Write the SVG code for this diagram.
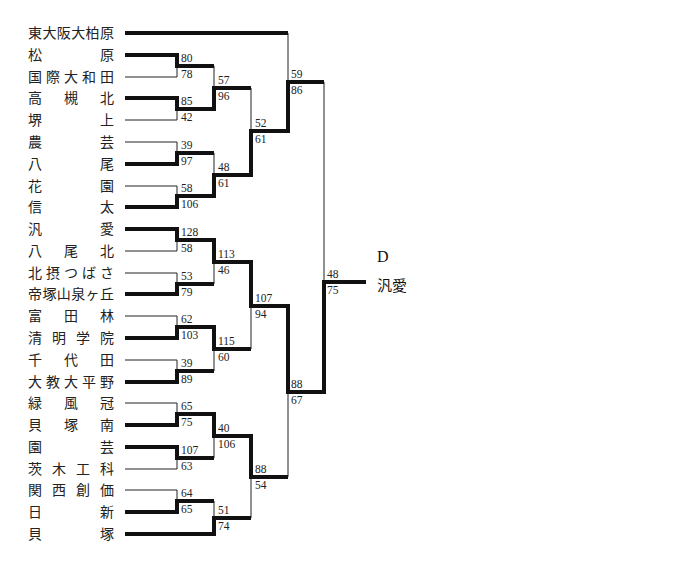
<svg xmlns="http://www.w3.org/2000/svg" width="700" height="565" viewBox="0 0 700 565">
<style>
.n{font-family:"Noto Sans CJK JP",sans-serif;font-size:14px;fill:#222}
.s{font-family:"Liberation Serif",serif;font-size:11.5px;fill:#222}
.thick{fill:none;stroke:#111;stroke-width:4;stroke-linejoin:miter}
.thin{fill:none;stroke:#222;stroke-width:1}
.w{font-family:"Liberation Serif","Noto Sans CJK JP",serif;font-size:16px;fill:#111}
.wj{font-family:"Noto Sans CJK JP",sans-serif;font-size:15px;fill:#111}
</style>
<rect width="700" height="565" fill="#fff"/>
<g id="teams">
<g id="t0"><text class="n" x="28 42.4 56.8 71.2 85.6 100" y="38">東大阪大柏原</text></g>
<g id="t1"><text class="n" x="28 100" y="60">松原</text></g>
<g id="t2"><text class="n" x="28 46 64 82 100" y="82">国際大和田</text></g>
<g id="t3"><text class="n" x="28 64 100" y="103">高槻北</text></g>
<g id="t4"><text class="n" x="28 100" y="125">堺上</text></g>
<g id="t5"><text class="n" x="28 100" y="147">農芸</text></g>
<g id="t6"><text class="n" x="28 100" y="169">八尾</text></g>
<g id="t7"><text class="n" x="28 100" y="191">花園</text></g>
<g id="t8"><text class="n" x="28 100" y="212">信太</text></g>
<g id="t9"><text class="n" x="28 100" y="234">汎愛</text></g>
<g id="t10"><text class="n" x="28 64 100" y="256">八尾北</text></g>
<g id="t11"><text class="n" x="28 46 64 82 100" y="278">北摂つばさ</text></g>
<g id="t12"><text class="n" x="28 42.4 56.8 71.2 85.6 100" y="299">帝塚山泉ヶ丘</text></g>
<g id="t13"><text class="n" x="28 64 100" y="321">富田林</text></g>
<g id="t14"><text class="n" x="28 52 76 100" y="343">清明学院</text></g>
<g id="t15"><text class="n" x="28 64 100" y="365">千代田</text></g>
<g id="t16"><text class="n" x="28 46 64 82 100" y="387">大教大平野</text></g>
<g id="t17"><text class="n" x="28 64 100" y="408">緑風冠</text></g>
<g id="t18"><text class="n" x="28 64 100" y="430">貝塚南</text></g>
<g id="t19"><text class="n" x="28 100" y="452">園芸</text></g>
<g id="t20"><text class="n" x="28 52 76 100" y="474">茨木工科</text></g>
<g id="t21"><text class="n" x="28 52 76 100" y="495">関西創価</text></g>
<g id="t22"><text class="n" x="28 100" y="517">日新</text></g>
<g id="t23"><text class="n" x="28 100" y="539">貝塚</text></g>
</g>
<g id="connectors">
<path class="thin" d="M288,33V82 M214,66V88 M125,77H177V66 M251,88V131 M125,120H177V109 M125,142H177V153 M214,153V175 M125,186H177V196 M324,82V282 M125,251H177V240 M125,273H177V284 M214,284V262 M125,316H177V327 M251,349V306 M125,360H177V371 M214,371V349 M125,403H177V414 M288,477V392 M214,458V436 M125,469H177V458 M125,490H177V501 M214,501V518 M251,518V477"/>
<path class="thick" d="M125,33H288"/>
<path class="thick" d="M125,55H177V66H214"/>
<path class="thick" d="M125,98H177V109H214V88H251"/>
<path class="thick" d="M125,164H177V153H214"/>
<path class="thick" d="M125,207H177V196H214V175H251V131H288V82H324"/>
<path class="thick" d="M125,229H177V240H214V262H251V306H288V392H324V282H366"/>
<path class="thick" d="M125,294H177V284H214"/>
<path class="thick" d="M125,338H177V327H214V349H251"/>
<path class="thick" d="M125,382H177V371H214"/>
<path class="thick" d="M125,425H177V414H214V436H251V477H288"/>
<path class="thick" d="M125,447H177V458H214"/>
<path class="thick" d="M125,512H177V501H214"/>
<path class="thick" d="M125,534H214V518H251"/>
</g>
<g id="scores">
<text class="s" x="181" y="62">80</text><text class="s" x="181" y="78">78</text>
<text class="s" x="181" y="105">85</text><text class="s" x="181" y="121">42</text>
<text class="s" x="181" y="149">39</text><text class="s" x="181" y="165">97</text>
<text class="s" x="181" y="192">58</text><text class="s" x="181" y="208">106</text>
<text class="s" x="181" y="236">128</text><text class="s" x="181" y="252">58</text>
<text class="s" x="181" y="280">53</text><text class="s" x="181" y="296">79</text>
<text class="s" x="181" y="323">62</text><text class="s" x="181" y="339">103</text>
<text class="s" x="181" y="367">39</text><text class="s" x="181" y="383">89</text>
<text class="s" x="181" y="410">65</text><text class="s" x="181" y="426">75</text>
<text class="s" x="181" y="454">107</text><text class="s" x="181" y="470">63</text>
<text class="s" x="181" y="497">64</text><text class="s" x="181" y="513">65</text>
<text class="s" x="218" y="84">57</text><text class="s" x="218" y="100">96</text>
<text class="s" x="218" y="171">48</text><text class="s" x="218" y="187">61</text>
<text class="s" x="218" y="258">113</text><text class="s" x="218" y="274">46</text>
<text class="s" x="218" y="345">115</text><text class="s" x="218" y="361">60</text>
<text class="s" x="218" y="432">40</text><text class="s" x="218" y="448">106</text>
<text class="s" x="218" y="514">51</text><text class="s" x="218" y="530">74</text>
<text class="s" x="255" y="127">52</text><text class="s" x="255" y="143">61</text>
<text class="s" x="255" y="302">107</text><text class="s" x="255" y="318">94</text>
<text class="s" x="255" y="473">88</text><text class="s" x="255" y="489">54</text>
<text class="s" x="291" y="78">59</text><text class="s" x="291" y="94">86</text>
<text class="s" x="291" y="388">88</text><text class="s" x="291" y="404">67</text>
<text class="s" x="327" y="278">48</text><text class="s" x="327" y="294">75</text>
</g>
<g id="winner">
<text class="w" x="377" y="262">D</text>
<text class="wj" x="377" y="291">汎愛</text>
</g>
</svg>
